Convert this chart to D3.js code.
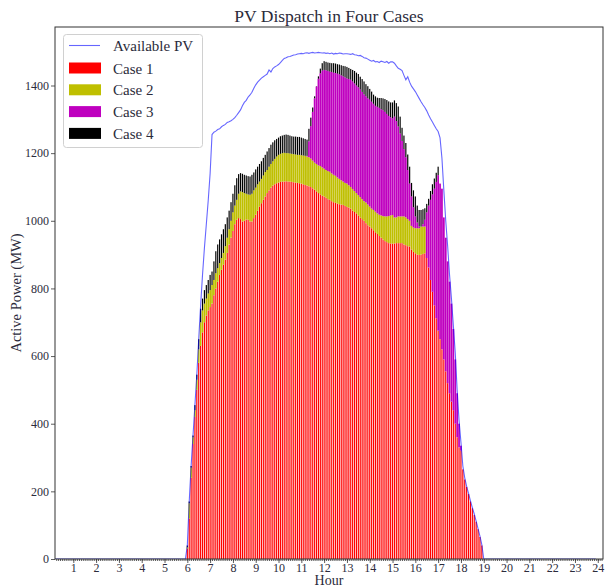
<!DOCTYPE html>
<html>
<head>
<meta charset="utf-8">
<script src="https://cdn.jsdelivr.net/npm/d3@7"></script>
<style>
  body { margin: 0; background: #fff; }
  text { font-family: "Liberation Serif", "DejaVu Serif", serif; fill: #2b2b3b; }
</style>
</head>
<body>
<div id="content"></div>
<script>
// 5-minute values, first entry at 6:00, last at 19:00 (zero elsewhere in the day)
const firstHour = 6;
const stepsPerHour = 12;

const availablePV = [
  40, 170, 275, 365, 455, 545, 650, 750, 840, 920, 990, 1060,
  1140, 1255, 1262, 1265, 1270, 1272, 1278, 1282, 1285, 1291, 1293, 1296,
  1300, 1305, 1312, 1320, 1328, 1340, 1350, 1356, 1366, 1372, 1380, 1392,
  1402, 1410, 1416, 1422, 1426, 1430, 1434, 1446, 1440, 1450, 1455, 1458,
  1462, 1468, 1474, 1480, 1482, 1485, 1486, 1488, 1490, 1491, 1493, 1494,
  1495, 1494, 1496, 1497, 1495, 1497, 1498, 1496, 1497, 1498, 1497, 1496,
  1497, 1495, 1496, 1494, 1496, 1493, 1495, 1494, 1496, 1495, 1493, 1494,
  1494, 1493, 1492, 1494, 1491, 1490, 1488, 1489, 1486, 1482, 1481, 1478,
  1475, 1472, 1474, 1470, 1471, 1468, 1472, 1470, 1468, 1471, 1466, 1470,
  1470, 1466, 1458, 1451, 1448, 1444, 1430, 1417, 1426, 1410, 1398, 1390,
  1382, 1372, 1362, 1352, 1343, 1335, 1325, 1313, 1302, 1292, 1282, 1272,
  1264, 1245, 1185, 1090, 1000, 925, 840, 770, 690, 610, 500, 410,
  345, 275, 240, 215, 194, 172, 152, 133, 112, 90, 68, 42,
  0
];

const case1 = [
  30, 120, 240, 340, 420, 500, 580, 630, 670, 700, 720, 735,
  745, 755, 780, 800, 820, 840, 855, 870, 885, 905, 930, 950,
  970, 990, 1003, 1008, 1005, 998, 1000, 1004, 1003, 998, 998, 1008,
  1018, 1030, 1042, 1052, 1062, 1072, 1082, 1090, 1098, 1104, 1108, 1111,
  1113, 1115, 1116, 1116, 1117, 1116, 1116, 1115, 1114, 1113, 1112, 1111,
  1110, 1108, 1106, 1104, 1102, 1100, 1096, 1092, 1087, 1082, 1078, 1074,
  1072, 1068, 1064, 1062, 1058, 1055, 1053, 1051, 1049, 1048, 1047, 1044,
  1041, 1039, 1036, 1030, 1026, 1022, 1016, 1010, 1005, 1000, 993, 987,
  983, 978, 972, 966, 961, 955, 950, 945, 940, 937, 934, 933,
  932, 933, 934, 934, 934, 934, 930, 928, 925, 924, 915, 908,
  904, 900, 899, 900, 902, 904, 890, 862, 825, 790, 750, 712,
  675, 650, 620, 590, 555, 520, 490, 465, 440, 400, 360, 330,
  320, 265, 235, 213, 192, 170, 150, 130, 110, 88, 65, 40,
  0
];

const case2 = [
  35, 165, 270, 360, 440, 530, 620, 700, 735, 755, 770, 785,
  795, 810, 825, 845, 860, 875, 890, 905, 925, 950, 975, 1000,
  1025, 1045, 1062, 1080, 1087, 1085, 1082, 1080, 1078, 1077, 1080, 1090,
  1098, 1108, 1116, 1124, 1134, 1144, 1150, 1160, 1168, 1176, 1183, 1190,
  1195, 1198, 1200, 1201, 1200, 1200, 1199, 1198, 1197, 1196, 1195, 1195,
  1194, 1193, 1192, 1190, 1188, 1184, 1178, 1172, 1168, 1164, 1162, 1158,
  1154, 1150, 1147, 1145, 1140, 1136, 1133, 1128, 1124, 1120, 1116, 1112,
  1110, 1105, 1100, 1094, 1088, 1082, 1076, 1070, 1064, 1058, 1054, 1048,
  1042, 1036, 1032, 1027, 1022, 1018, 1016, 1014, 1013, 1013, 1014, 1016,
  1017, 1010, 1010, 1013, 1013, 1013, 1013, 1010, 1005, 1000, 985, 980,
  978, 978, 978, 983, 983, 983, 890, 862, 825, 790, 750, 712,
  675, 650, 620, 590, 555, 520, 490, 465, 440, 400, 360, 330,
  320, 265, 235, 213, 192, 170, 150, 130, 110, 88, 65, 40,
  0
];

const case3 = [
  35, 165, 270, 360, 440, 530, 620, 700, 735, 755, 770, 785,
  795, 810, 825, 845, 860, 875, 890, 905, 925, 950, 975, 1000,
  1025, 1045, 1062, 1080, 1087, 1085, 1082, 1080, 1078, 1077, 1080, 1090,
  1098, 1108, 1116, 1124, 1134, 1144, 1150, 1160, 1168, 1176, 1183, 1190,
  1195, 1198, 1200, 1201, 1200, 1200, 1199, 1198, 1197, 1196, 1195, 1195,
  1194, 1193, 1192, 1192, 1235, 1280, 1322, 1362, 1397, 1420, 1436, 1444,
  1446, 1445, 1443, 1441, 1440, 1438, 1437, 1435, 1433, 1430, 1427, 1424,
  1421, 1419, 1417, 1412, 1406, 1400, 1395, 1388, 1381, 1374, 1368, 1362,
  1358, 1352, 1346, 1340, 1337, 1334, 1330, 1327, 1322, 1316, 1310, 1306,
  1303, 1308, 1295, 1279, 1258, 1236, 1212, 1188, 1150, 1110, 1072, 1040,
  1013, 995, 983, 983, 990, 1003, 1025, 1045, 1062, 1078, 1095, 1115,
  1135, 1110, 1095, 1010, 950, 880, 820, 755, 680, 590, 490, 400,
  335, 265, 235, 213, 192, 170, 150, 130, 110, 88, 65, 40,
  0
];

const case4 = [
  40, 170, 275, 365, 455, 545, 650, 740, 770, 795, 810, 825,
  840, 850, 880, 910, 930, 945, 960, 975, 990, 1010, 1030, 1055,
  1080, 1105, 1126, 1138, 1141, 1139, 1136, 1134, 1132, 1131, 1136, 1143,
  1152, 1160, 1168, 1176, 1186, 1195, 1205, 1215, 1225, 1232, 1238, 1242,
  1246, 1250, 1252, 1254, 1255, 1254, 1252, 1250, 1249, 1249, 1248, 1248,
  1246, 1244, 1242, 1240, 1272, 1305, 1335, 1368, 1398, 1427, 1450, 1466,
  1472, 1470, 1468, 1467, 1466, 1466, 1465, 1463, 1462, 1460, 1458, 1457,
  1455, 1452, 1449, 1446, 1443, 1438, 1434, 1426, 1419, 1412, 1404, 1398,
  1390, 1382, 1373, 1368, 1364, 1363, 1363, 1362, 1360, 1357, 1353, 1350,
  1350, 1356, 1348, 1338, 1308, 1275, 1252, 1230, 1196, 1160, 1112, 1090,
  1072, 1045, 1032, 1032, 1034, 1037, 1050, 1065, 1088, 1108, 1125, 1142,
  1160, 1110, 1095, 1010, 950, 880, 820, 755, 680, 590, 490, 400,
  335, 265, 235, 213, 192, 170, 150, 130, 110, 88, 65, 40,
  0
];

const hourTicks = d3.range(1, 25);
const yTicks = [0, 200, 400, 600, 800, 1000, 1200, 1400];

const seriesNames = ['Case 1', 'Case 2', 'Case 3', 'Case 4'];
const seriesColors = ['#ff0000', '#bfbf00', '#bf00bf', '#000000'];
const barFrac = [0.62, 0.9, 0.92, 0.62];

// expand to the full day (288 five-minute steps)
function fullDay(arr) {
  const off = firstHour * stepsPerHour;
  return d3.range(24 * stepsPerHour).map(i =>
    (i >= off && i < off + arr.length) ? arr[i - off] : 0);
}

const W = 606, H = 588;
const plot = { left: 55, right: 603, top: 27, bottom: 559 };

const svg = d3.select('#content').append('svg')
  .attr('width', W)
  .attr('height', H);

const x = d3.scaleLinear().domain([0.197, 24.23]).range([plot.left, plot.right]);
const y = d3.scaleLinear().domain([0, 1573]).range([plot.bottom, plot.top]);

svg.append('clipPath').attr('id', 'clip')
  .append('rect')
  .attr('x', plot.left).attr('y', plot.top)
  .attr('width', plot.right - plot.left).attr('height', plot.bottom - plot.top);

const g = svg.append('g').attr('clip-path', 'url(#clip)');

const step = x(1 / stepsPerHour) - x(0);

// bars overlap, case 1 in front; each case only shows the part above the cases in front of it
const days = [case1, case2, case3, case4].map(fullDay);
days.forEach((vals, k) => {
  const barW = step * barFrac[k];
  const data = vals.map((v, i) => {
    const base = k === 0 ? 0 : d3.max(days.slice(0, k), s => s[i]);
    return { h: i / stepsPerHour, v: v, base: Math.min(base, v) };
  }).filter(d => d.v > d.base);
  g.append('g').selectAll('rect')
    .data(data)
    .enter().append('rect')
    .attr('x', d => x(d.h) - barW / 2)
    .attr('width', barW)
    .attr('y', d => y(d.v))
    .attr('height', d => y(d.base) - y(d.v))
    .attr('fill', seriesColors[k]);
});

const pvLine = d3.line()
  .x((d, i) => x(i / stepsPerHour))
  .y(d => y(d));

g.append('path')
  .datum(fullDay(availablePV))
  .attr('d', pvLine)
  .attr('fill', 'none')
  .attr('stroke', '#0000ff')
  .attr('stroke-opacity', 0.6)
  .attr('stroke-width', 1.1);

// axes
const xAxis = d3.axisBottom(x).tickValues(hourTicks).tickSize(4).tickPadding(0);
const xMinor = d3.axisBottom(x)
  .tickValues(d3.range(3, 24 * stepsPerHour + 3).map(i => i / stepsPerHour))
  .tickSize(2).tickFormat('');
const yAxis = d3.axisLeft(y).tickValues(yTicks).tickFormat(d3.format('d')).tickSize(4).tickPadding(2);

const gx = svg.append('g').attr('transform', `translate(0,${plot.bottom})`).call(xAxis);
const gxm = svg.append('g').attr('transform', `translate(0,${plot.bottom})`).call(xMinor);
const gy = svg.append('g').attr('transform', `translate(${plot.left},0)`).call(yAxis);

[gx, gxm, gy].forEach(a => {
  a.select('.domain').remove();
  a.selectAll('line').attr('stroke', '#333').attr('stroke-width', 0.8);
  a.selectAll('text').style('font-size', '12px').attr('fill', '#2b2b3b');
});

svg.append('rect')
  .attr('x', plot.left).attr('y', plot.top)
  .attr('width', plot.right - plot.left).attr('height', plot.bottom - plot.top)
  .attr('fill', 'none').attr('stroke', '#333').attr('stroke-width', 1);

// titles
svg.append('text')
  .attr('x', (plot.left + plot.right) / 2).attr('y', 22)
  .attr('text-anchor', 'middle')
  .style('font-size', '17.5px')
  .text('PV Dispatch in Four Cases');

svg.append('text')
  .attr('x', (plot.left + plot.right) / 2).attr('y', 585)
  .attr('text-anchor', 'middle')
  .style('font-size', '14px')
  .text('Hour');

svg.append('text')
  .attr('transform', `translate(21,${(plot.top + plot.bottom) / 2}) rotate(-90)`)
  .attr('text-anchor', 'middle')
  .style('font-size', '14.5px')
  .text('Active Power (MW)');

// legend
const lg = svg.append('g');
lg.append('rect')
  .attr('x', 63.5).attr('y', 34.5).attr('width', 139).attr('height', 113)
  .attr('rx', 3)
  .attr('fill', '#fff').attr('fill-opacity', 0.8)
  .attr('stroke', '#d0d0d0').attr('stroke-width', 1);

lg.append('line')
  .attr('x1', 69).attr('x2', 100).attr('y1', 45.5).attr('y2', 45.5)
  .attr('stroke', '#0000ff').attr('stroke-opacity', 0.6).attr('stroke-width', 1.1);
lg.append('text').attr('x', 113).attr('y', 51).style('font-size', '15px').text('Available PV');

seriesNames.forEach((name, i) => {
  const cy = 68 + i * 21.8;
  lg.append('rect')
    .attr('x', 69).attr('y', cy - 5.5).attr('width', 32).attr('height', 11)
    .attr('fill', seriesColors[i]);
  lg.append('text').attr('x', 113).attr('y', cy + 5.5)
    .style('font-size', '15px').text(name);
});
</script>
</body>
</html>
